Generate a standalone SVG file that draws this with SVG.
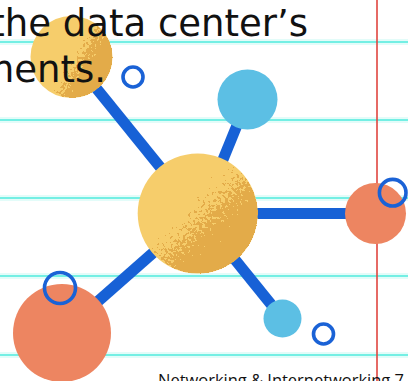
<svg xmlns="http://www.w3.org/2000/svg" width="408" height="381" viewBox="0 0 408 381">
  <style>
    .rule { stroke: #74efe4; stroke-width: 2.2; }
    .rule-halo { stroke: #c8faf5; stroke-width: 6; opacity: 0.5; }
    .margin { stroke: #e0453f; stroke-width: 1.6; }
    .link { stroke: #1761d6; stroke-width: 11; stroke-linecap: butt; fill: none; }
    .ring { fill: none; stroke: #1a62d6; stroke-width: 3.6; }
    .sky { fill: #5cbfe4; }
    .coral { fill: #ed8561; }
    .sun { fill: #f6cd6b; }
    .body { font-family: "DejaVu Sans", Verdana, sans-serif; font-size: 37px; fill: #111; }
    .footer { font-family: "Open Sans", "Liberation Sans", sans-serif; font-size: 16px; fill: #111; }
  </style>
  <defs>
    <linearGradient id="shadeHub" x1="0" y1="0" x2="1" y2="1">
      <stop offset="0.30" stop-color="#000" stop-opacity="0"/>
      <stop offset="0.80" stop-color="#000" stop-opacity="1"/>
    </linearGradient>
    <linearGradient id="shadeTop" x1="0" y1="0.2" x2="1" y2="0.8">
      <stop offset="0.35" stop-color="#000" stop-opacity="0"/>
      <stop offset="0.85" stop-color="#000" stop-opacity="1"/>
    </linearGradient>
    <!-- grainy darker half for the yellow balls -->
    <filter id="grain" x="0" y="0" width="1" height="1">
      <feTurbulence type="fractalNoise" baseFrequency="0.35" numOctaves="3" seed="7" result="noise"/>
      <feColorMatrix in="noise" type="matrix" values="0 0 0 0 0  0 0 0 0 0  0 0 0 0 0  1 0 0 0 0" result="noiseA"/>
      <feComposite in="SourceAlpha" in2="noiseA" operator="arithmetic" k1="0" k2="1" k3="0.9" k4="-0.45" result="mix"/>
      <feComponentTransfer in="mix" result="cut">
        <feFuncA type="discrete" tableValues="0 1"/>
      </feComponentTransfer>
      <feFlood flood-color="#e3ab4a"/>
      <feComposite operator="in" in2="cut"/>
    </filter>
  </defs>

  <rect width="408" height="381" fill="#ffffff"/>

  <!-- notebook paper -->
  <g id="paper">
    <g class="rule-halo">
      <line x1="0" y1="42" x2="408" y2="42"/>
      <line x1="0" y1="120" x2="408" y2="120"/>
      <line x1="0" y1="198" x2="408" y2="198"/>
      <line x1="0" y1="276" x2="408" y2="276"/>
      <line x1="0" y1="355" x2="408" y2="355"/>
    </g>
    <g class="rule">
      <line x1="0" y1="42" x2="408" y2="42"/>
      <line x1="0" y1="120" x2="408" y2="120"/>
      <line x1="0" y1="198" x2="408" y2="198"/>
      <line x1="0" y1="276" x2="408" y2="276"/>
      <line x1="0" y1="355" x2="408" y2="355"/>
    </g>
    <line class="margin" x1="377" y1="0" x2="377" y2="381"/>
  </g>

  <!-- spokes -->
  <g id="connectors">
    <line class="link" x1="71" y1="57" x2="197.7" y2="213.5"/>
    <line class="link" x1="247.5" y1="99.5" x2="201" y2="213.5"/>
    <line class="link" x1="197.7" y1="213.5" x2="375.5" y2="213.5"/>
    <line class="link" x1="197.7" y1="213.5" x2="62" y2="333"/>
    <line class="link" x1="197.7" y1="213.5" x2="282.5" y2="318.5"/>
  </g>

  <g id="node-top-left">
    <circle class="sun" cx="71.5" cy="57" r="41"/>
    <circle cx="71.5" cy="57" r="41" fill="url(#shadeTop)" filter="url(#grain)"/>
  </g>
  <g id="ring-top-left">
    <circle class="ring" cx="133" cy="77" r="10"/>
  </g>
  <g id="node-top">
    <circle class="sky" cx="247.5" cy="99.5" r="30"/>
  </g>
  <g id="node-hub">
    <circle class="sun" cx="197.7" cy="213.5" r="60"/>
    <circle cx="197.7" cy="213.5" r="60" fill="url(#shadeHub)" filter="url(#grain)"/>
  </g>
  <g id="node-right">
    <circle class="coral" cx="375.5" cy="213.5" r="30.5"/>
  </g>
  <g id="ring-right">
    <circle class="ring" cx="392.7" cy="192.7" r="13.3"/>
  </g>
  <g id="node-bottom-left">
    <circle class="coral" cx="62" cy="333" r="49"/>
  </g>
  <g id="ring-bottom-left">
    <circle class="ring" cx="60" cy="288" r="15.5"/>
  </g>
  <g id="node-bottom-right">
    <circle class="sky" cx="282.5" cy="318.5" r="19"/>
  </g>
  <g id="ring-bottom-right">
    <circle class="ring" cx="323.5" cy="334" r="10"/>
  </g>

  <!-- slide text -->
  <g id="caption">
    <text class="body" x="308" y="36" text-anchor="end">the data center’s</text>
    <text class="body" x="106" y="82" text-anchor="end">ments.</text>
  </g>
  <g id="footer">
    <text class="footer" x="158" y="386" textLength="246" lengthAdjust="spacingAndGlyphs">Networking &amp; Internetworking 7</text>
  </g>
</svg>
